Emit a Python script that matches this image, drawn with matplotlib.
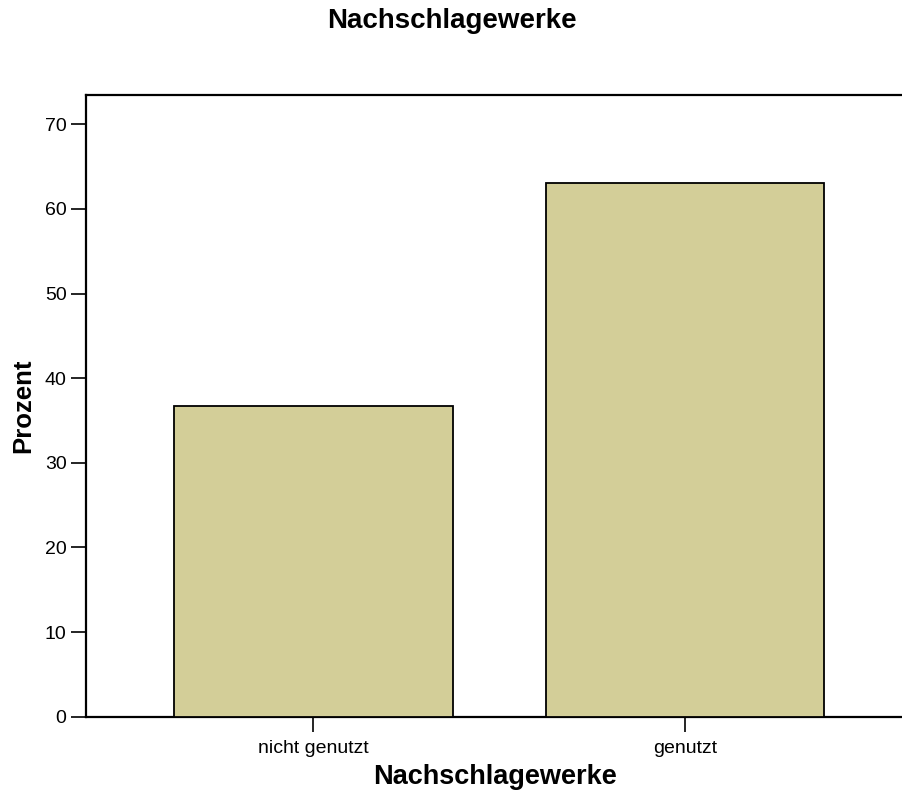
import matplotlib
matplotlib.use("Agg")
import matplotlib.pyplot as plt

categories = ["nicht genutzt", "genutzt"]
values = [36.7, 63.1]
yticks = [0, 10, 20, 30, 40, 50, 60, 70]

plt.rcParams['font.family'] = ['Liberation Sans', 'DejaVu Sans']

fig = plt.figure(figsize=(9.03, 7.93), dpi=100)
ax = fig.add_axes([86/903, 1 - 716.7/793, 1 - 86/903 + 0.002, (716.7 - 95)/793])

x = list(range(len(categories)))
ax.bar(x, values, width=0.75, color="#D3CE98", edgecolor="black", linewidth=1.3, zorder=3)

ax.set_xlim(-0.612, 1.592)
ax.set_ylim(0, 73.46)
ax.set_xticks(x)
ax.set_xticklabels(categories, fontsize=14)
ax.set_yticks(yticks)
ax.set_yticklabels([str(t) for t in yticks], fontsize=14)
ax.tick_params(axis='both', direction='out', length=11, width=1.2, color='black')
ax.tick_params(axis='x', pad=6)
ax.tick_params(axis='y', pad=3)

for side in ['left', 'bottom', 'top']:
    ax.spines[side].set_linewidth(1.6)
    ax.spines[side].set_color('black')
ax.spines['right'].set_visible(False)

ax.set_xlabel("Nachschlagewerke", fontsize=19.5, fontweight='bold', labelpad=5)
ax.set_ylabel("Prozent", fontsize=18.5, fontweight='bold', labelpad=7)
fig.text(0.5, 1 - 21/793, "Nachschlagewerke", ha='center', va='center',
         fontsize=20, fontweight='bold')

fig.savefig("out.png", dpi=100)
